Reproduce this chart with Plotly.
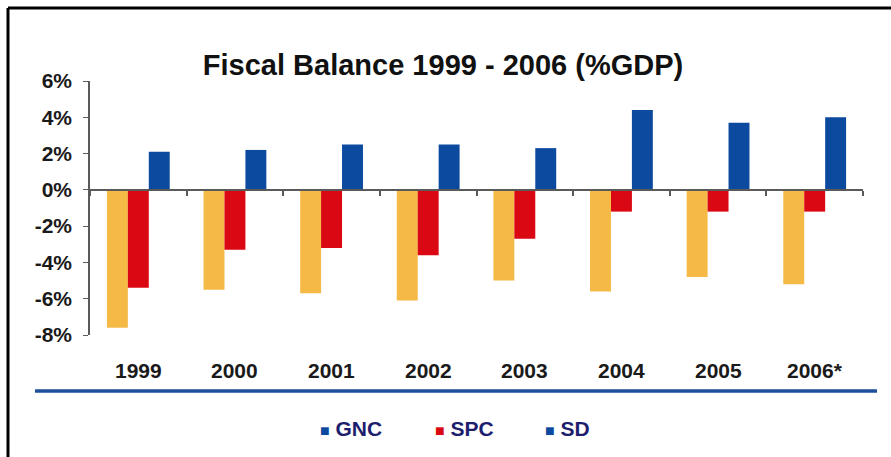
import plotly.graph_objects as go

# Fiscal balance by year, % of GDP
years = ["1999", "2000", "2001", "2002", "2003", "2004", "2005", "2006*"]
gnc = [-7.6, -5.5, -5.7, -6.1, -5.0, -5.6, -4.8, -5.2]
spc = [-5.4, -3.3, -3.2, -3.6, -2.7, -1.2, -1.2, -1.2]
sd = [2.1, 2.2, 2.5, 2.5, 2.3, 4.4, 3.7, 4.0]

series_names = ["GNC", "SPC", "SD"]
bar_colors = ["#F5B946", "#DA0812", "#0B4A9E"]
legend_colors = ["#0B4A9E", "#DA0812", "#0B4A9E"]

y_min, y_max = -8, 6
y_ticks = [-8, -6, -4, -2, 0, 2, 4, 6]
y_tick_text = [f"{v}%" for v in y_ticks]

FONT = "Arial, Liberation Sans, sans-serif"
W, H = 891, 457
M_L, M_R, M_T, M_B = 90, 28, 81, 122
plot_w = W - M_L - M_R
plot_h = H - M_T - M_B


def px_x(px):
    return (px - M_L) / plot_w


def px_y(py):
    return (H - M_B - py) / plot_h


fig = go.Figure()
for name, vals, col in zip(series_names, [gnc, spc, sd], bar_colors):
    fig.add_trace(go.Bar(x=years, y=vals, name=name, marker_color=col,
                         marker_line_width=0, showlegend=False))

zero_pos = (0 - y_min) / (y_max - y_min)

fig.update_layout(
    width=W, height=H,
    margin=dict(l=M_L, r=M_R, t=M_T, b=M_B),
    paper_bgcolor="white", plot_bgcolor="white",
    barmode="group", bargap=0.35, bargroupgap=0,
    font=dict(family=FONT, color="#1a1a1a"),
    title=dict(text="<b>Fiscal Balance 1999 - 2006 (%GDP)</b>",
               x=px_x(443), xref="paper", xanchor="center",
               y=1 - 65 / H, yanchor="middle",
               font=dict(size=29, color="#111111", family=FONT)),
    # category axis sits on the zero line, ticks between the year groups
    xaxis=dict(type="category", range=[-0.5, len(years) - 0.5],
               anchor="free", position=zero_pos,
               showline=True, linecolor="#5a5a5a", linewidth=1.5,
               ticks="outside", tickson="boundaries", ticklen=5, tickwidth=1.5,
               tickcolor="#5a5a5a", showgrid=False, zeroline=False,
               showticklabels=False),
    yaxis=dict(range=[y_min, y_max], tickmode="array", tickvals=y_ticks,
               ticktext=y_tick_text, showgrid=False, zeroline=False,
               showline=True, linecolor="#5a5a5a", linewidth=1.5,
               ticks="outside", ticklen=5, tickcolor="#5a5a5a",
               tickfont=dict(size=21, family=FONT, color="#1a1a1a", weight="bold"),
               ticklabelstandoff=7),
)

# year labels below the plot, one per category position
for i, yr in enumerate(years):
    fig.add_annotation(x=i, xref="x", y=px_y(370), yref="paper",
                       text=f"<b>{yr}</b>", showarrow=False,
                       xanchor="center", yanchor="middle",
                       font=dict(size=21, family=FONT, color="#1a1a1a"))

# separator line under the year labels
fig.add_shape(type="line", xref="paper", yref="paper",
              x0=px_x(35), x1=px_x(877), y0=px_y(391), y1=px_y(391),
              line=dict(color="#1F4F9A", width=3.5))

# outer frame (left and top edges)
fig.add_shape(type="line", xref="paper", yref="paper",
              x0=px_x(8), x1=px_x(8), y0=px_y(8), y1=px_y(460),
              line=dict(color="black", width=3))
fig.add_shape(type="line", xref="paper", yref="paper",
              x0=px_x(8), x1=px_x(895), y0=px_y(8), y1=px_y(8),
              line=dict(color="black", width=3))

# legend entries
legend_x = [318, 433, 543]
for name, col, lx in zip(series_names, legend_colors, legend_x):
    fig.add_annotation(
        xref="paper", yref="paper", x=px_x(lx), y=px_y(428),
        xanchor="left", yanchor="middle", showarrow=False,
        text=f"<span style='color:{col}; font-size:16px'>■</span> <b>{name}</b>",
        font=dict(size=21, family=FONT, color="#1E1E6E"))

fig.write_html("out.html")
